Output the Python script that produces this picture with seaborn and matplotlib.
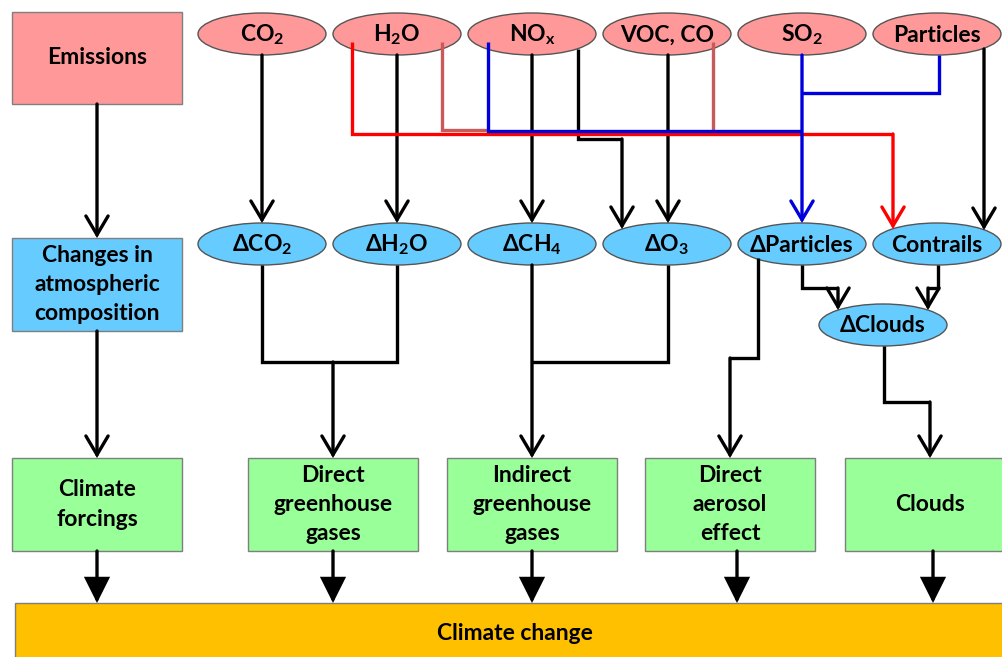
import matplotlib.pyplot as plt
import seaborn as sns
from matplotlib.patches import Ellipse, Rectangle

sns.set_theme(style="white")
plt.rcParams['font.family'] = ['Lato', 'DejaVu Sans']
plt.rcParams['mathtext.fontset'] = 'custom'
plt.rcParams['mathtext.rm'] = 'Lato:bold'
plt.rcParams['mathtext.bf'] = 'Lato:bold'
plt.rcParams['mathtext.default'] = 'bf'

# node labels
emission_labels = ["CO$_2$", "H$_2$O", "NO$_x$", "VOC, CO", "SO$_2$", "Particles"]
change_labels = ["ΔCO$_2$", "ΔH$_2$O", "ΔCH$_4$", "ΔO$_3$", "ΔParticles", "Contrails"]
side_labels = ["Emissions", "Changes in\natmospheric\ncomposition", "Climate\nforcings"]
effect_labels = ["Direct\ngreenhouse\ngases", "Indirect\ngreenhouse\ngases",
                 "Direct\naerosol\neffect", "Clouds"]
clouds_label = "ΔClouds"
result_label = "Climate change"

# layout (pixel coords)
col_x = [262, 397, 532, 667, 802, 937]
effect_x = [248, 447, 645, 845]
side_y = [12, 238, 458]
ell_w, ell_h = 128, 42
pink, blue, green, gold = "#FF9999", "#66CCFF", "#99FF99", "#FFC000"

fig = plt.figure(figsize=(10.02, 6.57), dpi=100)
ax = fig.add_axes([0, 0, 1, 1])
ax.set_xlim(0, 1002)
ax.set_ylim(657, 0)
ax.axis("off")

fs = 16.5
txt = dict(ha="center", va="center", fontsize=fs, fontweight="bold", color="black",
           linespacing=1.5, zorder=6)


def box(x, y, w, h, color, label):
    ax.add_patch(Rectangle((x, y), w, h, facecolor=color, edgecolor="#7f7f7f", lw=1, zorder=2))
    ax.text(x + w / 2, y + h / 2, label, **txt)


def oval(cx, cy, color, label):
    ax.add_patch(Ellipse((cx, cy), ell_w, ell_h, facecolor=color, edgecolor="#555555", lw=1, zorder=2))
    ax.text(cx, cy + 1, label, **txt)


def path(pts, color="black", arrow=False, filled=False, lw=2.4):
    xs = [p[0] for p in pts]
    ys = [p[1] for p in pts]
    if arrow:
        ax.plot(xs[:-1], ys[:-1], color=color, lw=lw, solid_joinstyle="miter",
                solid_capstyle="butt", zorder=4)
        style = "-|>,head_length=1.5,head_width=0.75" if filled else "->,head_length=1.35,head_width=0.8"
        ax.annotate("", xy=pts[-1], xytext=pts[-2],
                    arrowprops=dict(arrowstyle=style, color=color, lw=lw, shrinkA=0, shrinkB=0,
                                    mutation_scale=10, joinstyle="miter"), zorder=4)
    else:
        ax.plot(xs, ys, color=color, lw=lw, solid_joinstyle="miter",
                solid_capstyle="butt", zorder=4)


# left column boxes
box(12, side_y[0], 170, 92, pink, side_labels[0])
box(12, side_y[1], 170, 93, blue, side_labels[1])
box(12, side_y[2], 170, 93, green, side_labels[2])

# effect boxes
for x, lab in zip(effect_x, effect_labels):
    box(x, 458, 170, 93, green, lab)

# climate change bar
box(15, 603, 1000, 60, gold, "")
ax.text(515, 634, result_label, **txt)

# ovals
for x, lab in zip(col_x, emission_labels):
    oval(x, 34, pink, lab)
for x, lab in zip(col_x, change_labels):
    oval(x, 244, blue, lab)
oval(883, 325, blue, clouds_label)

# left column arrows
path([(97, 104), (97, 238)], arrow=True)
path([(97, 331), (97, 458)], arrow=True)

# emissions -> changes
path([(262, 55), (262, 223)], arrow=True)
path([(397, 55), (397, 223)], arrow=True)
path([(532, 55), (532, 223)], arrow=True)
path([(668, 55), (668, 223)], arrow=True)
path([(578, 49), (578, 139), (622, 139), (622, 229)], arrow=True)
path([(984, 49), (984, 230)], arrow=True)

# coloured links
brown, red, navy = "#C85A5A", "#FF0000", "#0000DD"
path([(352, 42), (352, 134), (893, 134), (893, 229)], color=red, arrow=True)
path([(442, 42), (442, 130), (487, 130)], color=brown)
path([(713, 42), (713, 130)], color=brown)
path([(488, 42), (488, 131), (802, 131)], color=navy)
path([(939, 55), (939, 93), (802, 93)], color=navy)
path([(802, 55), (802, 223)], color=navy, arrow=True)

# changes -> effects
path([(262, 265), (262, 362), (397, 362), (397, 265)])
path([(333, 362), (333, 458)], arrow=True)
path([(668, 265), (668, 362), (532, 362)])
path([(532, 265), (532, 458)], arrow=True)
path([(758, 258), (758, 358), (730, 358), (730, 458)], arrow=True)
path([(802, 265), (802, 288), (838, 288), (838, 310)], arrow=True)
path([(938, 265), (938, 288), (928, 288), (928, 310)], arrow=True)
path([(884, 346), (884, 402), (930, 402), (930, 458)], arrow=True)

# effects -> climate change
for x in [97, 333, 532, 737, 933]:
    path([(x, 551), (x, 603)], arrow=True, filled=True)

fig.savefig("out.png", dpi=100)
